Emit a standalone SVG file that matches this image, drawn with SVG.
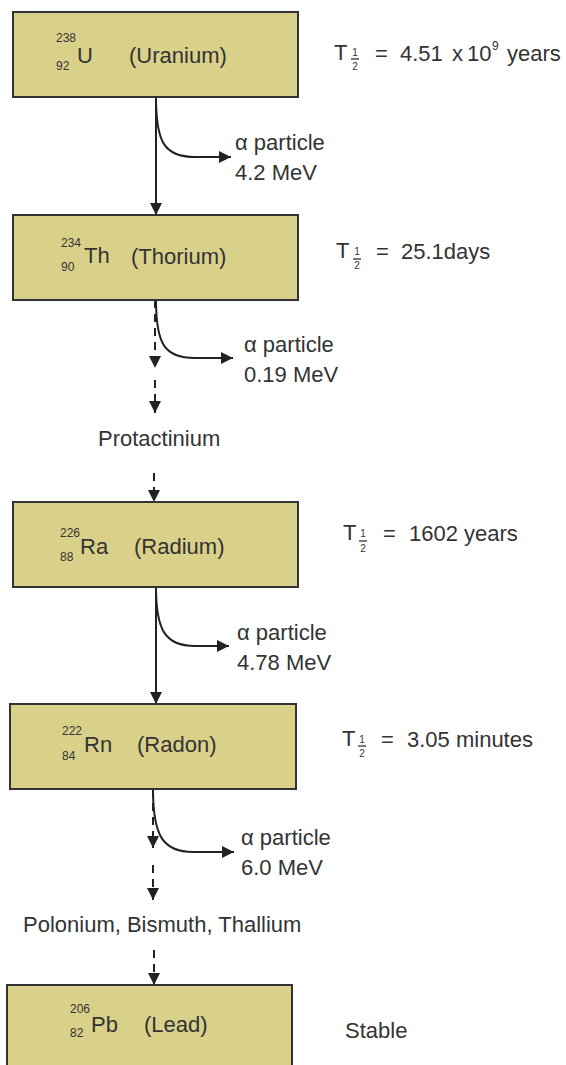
<svg xmlns="http://www.w3.org/2000/svg" width="566" height="1065" viewBox="0 0 566 1065">
<style>
text{font-family:"Liberation Sans",Arial,sans-serif;fill:#333}
.box{fill:#d9d08a;stroke:#333;stroke-width:2}
.m{font-size:22px}
.s{font-size:12px}
.f{font-size:10px;text-anchor:middle}
.ln{fill:none;stroke:#222;stroke-width:2}
.d{stroke-dasharray:8 6}
.bar{stroke:#333;stroke-width:1.3}
</style>
<defs>
<marker id="ah" viewBox="0 0 12 12" refX="12" refY="6" markerWidth="12" markerHeight="12" markerUnits="userSpaceOnUse" orient="auto">
<path d="M0,0 L12,6 L0,12 z" fill="#222"/>
</marker>
</defs>
<rect width="566" height="1065" fill="#fff"/>

<g id="connectors">
<path class="ln" d="M156,97 L156,215" marker-end="url(#ah)"/>
<path class="ln" d="M156,97 C156,142 164,157 195,157 L231,157" marker-end="url(#ah)"/>
<path class="ln d" d="M155,300 L155,368" marker-end="url(#ah)"/>
<path class="ln d" d="M155,380 L155,413" marker-end="url(#ah)"/>
<path class="ln" d="M156,300 C156,345 165,358 195,358 L233,358" marker-end="url(#ah)"/>
<path class="ln d" d="M154,473 L154,502" marker-end="url(#ah)"/>
<path class="ln" d="M156,587 L156,704" marker-end="url(#ah)"/>
<path class="ln" d="M156,587 C156,630 165,646 195,646 L229,646" marker-end="url(#ah)"/>
<path class="ln d" d="M153,789 L153,848" marker-end="url(#ah)"/>
<path class="ln d" d="M153,865 L153,900" marker-end="url(#ah)"/>
<path class="ln" d="M153,789 C153,836 163,852 193,852 L234,852" marker-end="url(#ah)"/>
<path class="ln d" d="M154,950 L154,985" marker-end="url(#ah)"/>
</g>

<g id="uranium">
<rect class="box" x="13" y="12" width="285" height="85"/>
<text class="s" x="56" y="42">238</text>
<text class="s" x="56" y="70">92</text>
<text class="m" x="77" y="63">U</text>
<text class="m" x="129" y="63">(Uranium)</text>
</g>
<g id="hl-uranium">
<text class="m" x="334" y="60">T</text>
<text class="f" x="355" y="56">1</text>
<line class="bar" x1="351" y1="59" x2="359" y2="59"/>
<text class="f" x="355" y="70">2</text>
<text class="m" x="375" y="61">=</text>
<text class="m" x="400" y="61">4.51</text>
<text class="m" x="452" y="61">x</text>
<text class="m" x="467" y="61">10</text>
<text class="s" x="492" y="50">9</text>
<text class="m" x="507" y="61">years</text>
</g>
<g id="alpha1">
<text class="m" x="235" y="150">α particle</text>
<text class="m" x="235" y="180">4.2 MeV</text>
</g>

<g id="thorium">
<rect class="box" x="13" y="215" width="285" height="85"/>
<text class="s" x="61" y="247">234</text>
<text class="s" x="61" y="271">90</text>
<text class="m" x="84" y="263">Th</text>
<text class="m" x="131" y="264">(Thorium)</text>
</g>
<g id="hl-thorium">
<text class="m" x="336" y="258">T</text>
<text class="f" x="357" y="255">1</text>
<line class="bar" x1="353" y1="259" x2="361" y2="259"/>
<text class="f" x="357" y="269">2</text>
<text class="m" x="376" y="259">=</text>
<text class="m" x="401" y="259">25.1days</text>
</g>
<g id="alpha2">
<text class="m" x="244" y="352">α particle</text>
<text class="m" x="244" y="382">0.19 MeV</text>
</g>
<g id="protactinium">
<text class="m" x="98" y="446">Protactinium</text>
</g>

<g id="radium">
<rect class="box" x="13" y="502" width="285" height="85"/>
<text class="s" x="60" y="537">226</text>
<text class="s" x="60" y="561">88</text>
<text class="m" x="80" y="554">Ra</text>
<text class="m" x="134" y="554">(Radium)</text>
</g>
<g id="hl-radium">
<text class="m" x="343" y="540">T</text>
<text class="f" x="363" y="537">1</text>
<line class="bar" x1="359" y1="541" x2="367" y2="541"/>
<text class="f" x="363" y="552">2</text>
<text class="m" x="383" y="541">=</text>
<text class="m" x="409" y="541">1602 years</text>
</g>
<g id="alpha3">
<text class="m" x="237" y="640">α particle</text>
<text class="m" x="237" y="670">4.78 MeV</text>
</g>

<g id="radon">
<rect class="box" x="10" y="704" width="286" height="85"/>
<text class="s" x="62" y="735">222</text>
<text class="s" x="62" y="760">84</text>
<text class="m" x="84" y="752">Rn</text>
<text class="m" x="137" y="752">(Radon)</text>
</g>
<g id="hl-radon">
<text class="m" x="342" y="746">T</text>
<text class="f" x="362" y="743">1</text>
<line class="bar" x1="358" y1="746" x2="366" y2="746"/>
<text class="f" x="362" y="757">2</text>
<text class="m" x="381" y="747">=</text>
<text class="m" x="407" y="747">3.05 minutes</text>
</g>
<g id="alpha4">
<text class="m" x="241" y="845">α particle</text>
<text class="m" x="241" y="875">6.0 MeV</text>
</g>
<g id="polonium">
<text class="m" x="23" y="932">Polonium, Bismuth, Thallium</text>
</g>

<g id="lead">
<rect class="box" x="7" y="985" width="285" height="100"/>
<text class="s" x="70" y="1013">206</text>
<text class="s" x="70" y="1037">82</text>
<text class="m" x="91" y="1032">Pb</text>
<text class="m" x="144" y="1032">(Lead)</text>
</g>
<g id="stable">
<text class="m" x="345" y="1038">Stable</text>
</g>
</svg>
